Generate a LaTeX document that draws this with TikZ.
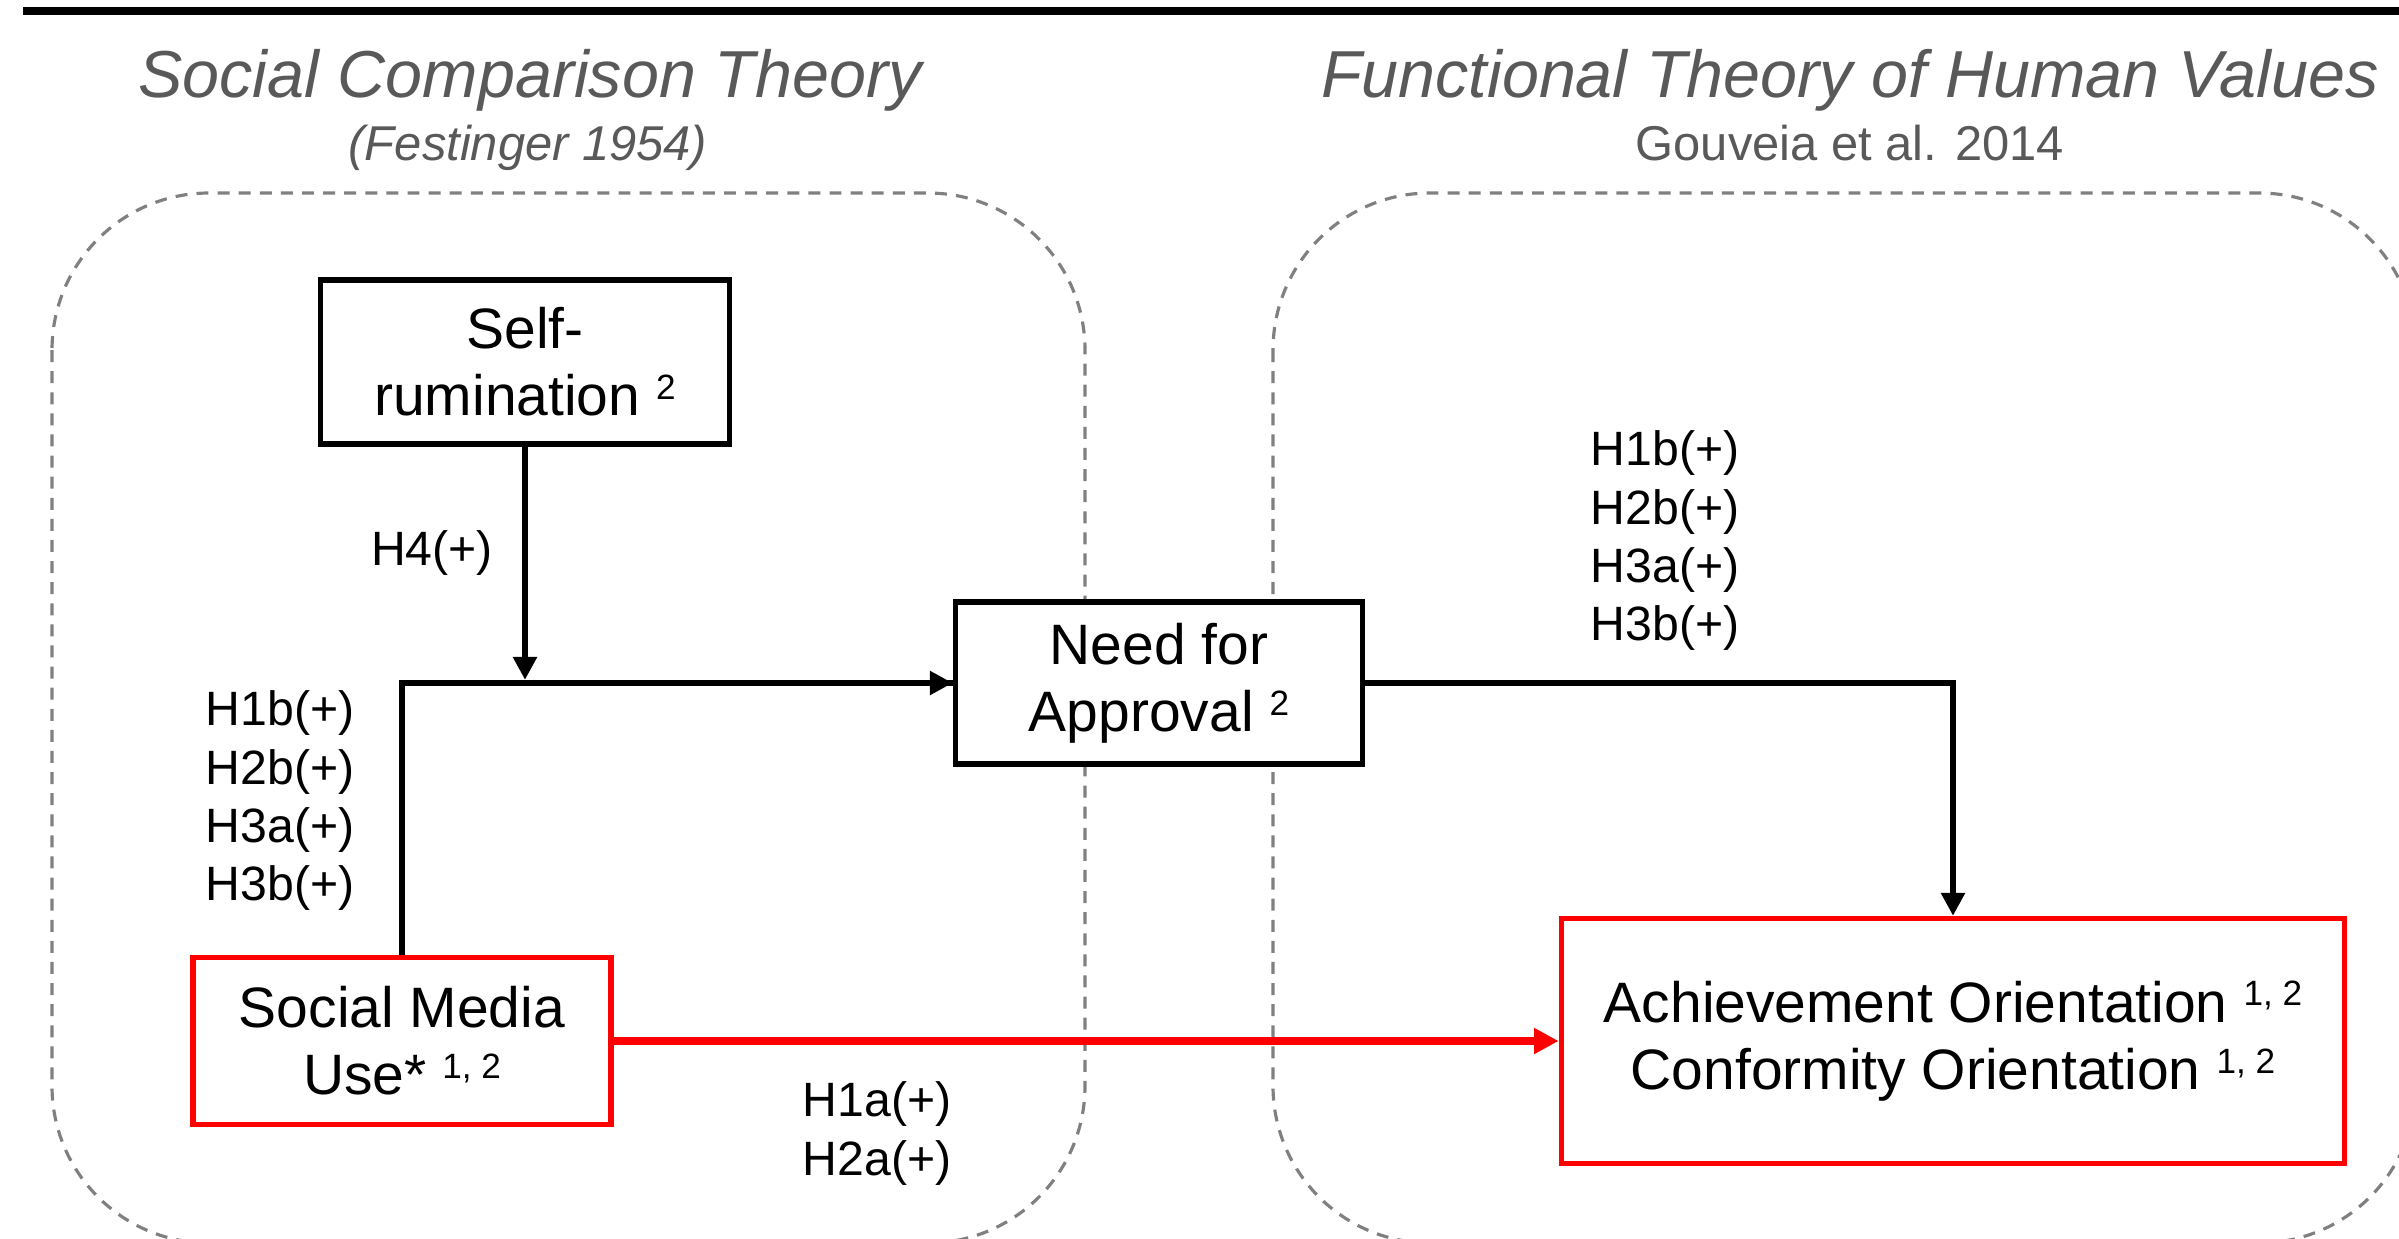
\documentclass[tikz,border=0pt]{standalone}
\usepackage{fontspec}
\setmainfont{Liberation Sans}
\usepackage{xcolor}
\usetikzlibrary{
	arrows.meta,
	positioning
}
\definecolor{titlegray}{RGB}{89,89,89}
\newcommand{\supnum}[1]{\raisebox{4.6pt}{\fontsize{10pt}{10pt}\selectfont #1}}

\begin{document}
\begin{tikzpicture}[
	x=0.01cm, y=-0.01cm,
	zone/.style={draw=gray, line width=0.9pt, dash pattern=on 3.4pt off 2.6pt, rounded corners=1.57cm},
	theory/.style={anchor=base, text=titlegray, font=\fontsize{18.9pt}{22pt}\selectfont\itshape},
	srcnote/.style={anchor=base, text=titlegray, font=\fontsize{13.9pt}{16pt}\selectfont},
	varbox/.style={draw, fill=white, line width=1.5pt, align=center, inner sep=0pt, font=\fontsize{16.2pt}{19.1pt}\selectfont},
	keyvar/.style={varbox, draw=red},
	hyp/.style={anchor=north, align=center, inner sep=0pt, font=\fontsize{13.7pt}{16.6pt}\selectfont},
	link/.style={line width=1.8pt, -{Triangle[length=6.5pt, width=6.5pt]}}
]
				\useasboundingbox (0, 0) rectangle (2399, 1239) ;
				\clip (0, 0) rectangle (2399, 1239) ;

				\fill[black] (23, 7) rectangle (2399, 15) ;

				\node[theory] (sctitle) at (530, 97) {Social Comparison Theory} ;
				\node[srcnote, font=\fontsize{13.9pt}{16pt}\selectfont\itshape] (scsource) at (528, 160) {(Festinger 1954)} ;
				\node[theory] (fttitle) at (1850, 97) {Functional Theory of Human Values} ;
				\node[srcnote] (ftsource) at (1850, 160) {Gouveia et al. 2014} ;

				\draw[zone] (52, 193) rectangle (1085, 1243) ;
				\draw[zone] (1273, 193) rectangle (2416, 1243) ;

				\node[varbox, minimum width=4.09cm, minimum height=1.64cm] (self) at (525, 362) {Self-\\rumination \supnum{2}} ;
				\node[varbox, minimum width=4.07cm, minimum height=1.62cm] (need) at (1159, 683) {Need for\\Approval \supnum{2}} ;
				\node[keyvar, minimum width=4.18cm, minimum height=1.67cm] (smu) at (402, 1041) {Social Media\\Use* \supnum{1, 2}} ;
				\node[keyvar, minimum width=7.83cm, minimum height=2.45cm] (ach) at (1953, 1041) {Achievement Orientation \supnum{1, 2}\\Conformity Orientation \supnum{1, 2}} ;

				\node[hyp] (h4lab) at (432, 530) {H4(+)} ;
				\node[hyp] (smulab) at (280, 690) {H1b(+)\\H2b(+)\\H3a(+)\\H3b(+)} ;
				\node[hyp] (needlab) at (1665, 430) {H1b(+)\\H2b(+)\\H3a(+)\\H3b(+)} ;
				\node[hyp] (directlab) at (877, 1081) {H1a(+)\\H2a(+)} ;

				\draw[line width=1.8pt] (smu.north) |- (need.west) ;
				\draw[link] (smu.north |- need.west) -- (need.west) ;
				\draw[link, shorten >=0.9pt] (self.south) -- (self.south |- need.west) ;
				\draw[link] (need.east) -| (ach.north) ;
				\draw[link, red, line width=2.2pt, -{Triangle[length=7pt, width=7pt]}] (smu.east) -- (ach.west) ;
\end{tikzpicture}
\end{document}
